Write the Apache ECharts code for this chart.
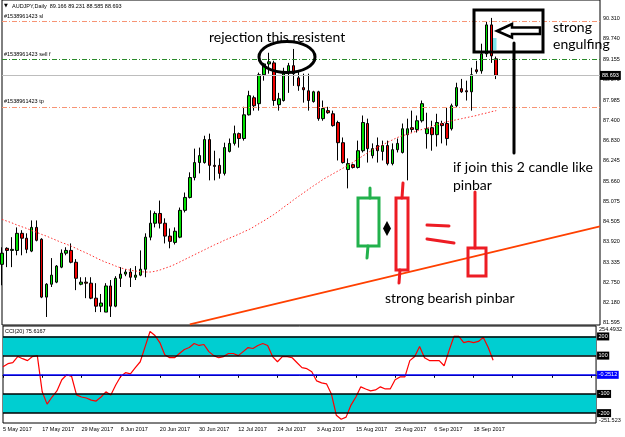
<!DOCTYPE html>
<html>
<head>
<meta charset="utf-8">
<script src="https://cdn.jsdelivr.net/npm/echarts@6/dist/echarts.min.js"></script>
<style>
  html, body { margin: 0; padding: 0; background: #fff; }
  #chart { width: 625px; height: 437px; }
</style>
</head>
<body>
<div id="chart"></div>
<script>
// trading days, 5 May 2017 .. 22 Sep 2017
const mayDays = [5, 8, 9, 10, 11, 12, 15, 16, 17, 18, 19, 22, 23, 24, 25, 26, 29, 30, 31];
const junDays = [1, 2, 5, 6, 7, 8, 9, 12, 13, 14, 15, 16, 19, 20, 21, 22, 23, 26, 27, 28, 29, 30];
const julDays = [3, 4, 5, 6, 7, 10, 11, 12, 13, 14, 17, 18, 19, 20, 21, 24, 25, 26, 27, 28, 31];
const augDays = [1, 2, 3, 4, 7, 8, 9, 10, 11, 14, 15, 16, 17, 18, 21, 22, 23, 24, 25, 28, 29, 30, 31];
const sepDays = [1, 4, 5, 6, 7, 8, 11, 12, 13, 14, 15, 18, 19, 20, 21, 22];
const emptySlots = 21; // chart shift on the right

const open = [
  83.27, 83.73, 83.67, 83.67, 84.16, 84.02, 83.65, 84.33, 83.99, 82.33,
  82.70, 82.76, 83.19, 83.59, 83.67, 83.33, 82.70, 82.76, 82.73, 82.30,
  82.07, 81.90, 82.65, 82.07, 82.87, 82.99, 83.05, 82.90, 82.96, 83.13,
  84.05, 84.45, 84.73, 84.45, 84.08, 83.90, 84.05, 84.82, 85.19, 85.76,
  86.19, 86.19, 86.85, 86.11, 86.11, 85.88, 86.51, 86.74, 87.02, 86.88,
  87.56, 88.05, 87.88, 88.71, 89.02, 89.05, 87.85, 87.97, 88.77, 88.97,
  88.62, 88.34, 88.25, 87.94, 88.22, 87.45, 87.68, 87.59, 87.34, 86.76,
  85.99, 86.13, 86.05, 86.53, 87.31, 86.39, 86.68, 86.51, 86.68, 86.16,
  86.56, 86.48, 86.99, 87.19, 87.14, 87.39, 87.02, 87.19, 86.99, 87.31,
  87.31, 87.16, 87.82, 88.31, 88.25, 88.22, 88.85, 88.82, 89.31, 90.14,
  89.166
];
const close = [
  83.59, 83.67, 83.70, 84.16, 84.02, 83.70, 84.33, 83.96, 82.33, 82.70,
  82.96, 83.22, 83.59, 83.67, 83.33, 82.87, 82.76, 82.73, 82.30, 82.07,
  82.16, 82.65, 82.07, 82.87, 82.99, 83.05, 82.90, 82.96, 83.13, 84.05,
  84.45, 84.73, 84.45, 84.08, 83.93, 84.22, 84.82, 85.19, 85.76, 86.19,
  86.39, 86.85, 86.11, 86.08, 85.88, 86.62, 86.74, 87.02, 86.88, 87.56,
  88.11, 87.82, 88.71, 89.02, 89.08, 87.97, 88.02, 88.74, 88.97, 88.74,
  88.39, 88.28, 87.97, 88.22, 87.45, 87.74, 87.62, 87.25, 86.76, 86.19,
  86.16, 86.05, 86.53, 87.34, 86.59, 86.59, 86.53, 86.68, 86.16, 86.56,
  86.74, 87.16, 87.16, 87.14, 87.39, 87.88, 87.16, 86.99, 87.34, 87.25,
  86.88, 87.82, 88.34, 88.22, 88.22, 88.71, 88.80, 89.31, 90.14, 89.25,
  88.693
];
const low = [
  82.67, 83.19, 83.19, 83.53, 83.53, 83.59, 83.62, 83.93, 82.30, 81.76,
  82.62, 82.73, 83.16, 83.53, 83.30, 82.53, 82.67, 82.30, 82.27, 81.90,
  81.90, 81.90, 81.76, 82.04, 82.62, 82.93, 82.62, 82.82, 82.93, 82.90,
  83.96, 84.33, 84.30, 83.87, 83.73, 83.84, 84.02, 84.76, 85.16, 85.68,
  85.88, 86.16, 85.68, 85.68, 85.73, 85.82, 86.48, 86.68, 86.62, 86.82,
  87.54, 87.68, 87.68, 88.54, 88.74, 87.82, 87.68, 87.94, 88.19, 88.39,
  88.25, 87.91, 87.68, 87.91, 87.39, 87.39, 87.59, 87.22, 86.25, 86.16,
  85.45, 86.02, 86.02, 86.48, 86.19, 86.31, 86.19, 86.25, 86.11, 86.11,
  86.48, 86.45, 85.68, 87.05, 87.05, 87.34, 86.59, 86.53, 86.65, 86.74,
  86.68, 87.11, 87.76, 88.19, 87.97, 87.68, 88.74, 88.74, 89.22, 89.05,
  88.585
];
const high = [
  83.76, 83.76, 84.05, 84.33, 84.25, 84.16, 84.53, 84.53, 84.02, 82.73,
  83.45, 83.25, 83.70, 83.76, 83.87, 83.42, 82.90, 82.90, 82.90, 82.73,
  82.42, 82.73, 82.82, 82.93, 83.19, 83.13, 83.16, 83.22, 83.67, 84.16,
  84.82, 84.79, 85.10, 84.59, 84.30, 84.33, 84.90, 85.33, 85.91, 86.59,
  86.62, 86.96, 87.02, 86.53, 86.31, 86.76, 86.88, 87.25, 87.05, 87.79,
  88.25, 88.11, 88.77, 89.05, 89.34, 89.11, 88.19, 88.91, 89.05, 89.45,
  88.82, 88.74, 88.74, 88.25, 88.25, 87.97, 87.79, 87.68, 87.39, 86.91,
  86.31, 86.16, 86.82, 87.54, 87.45, 86.74, 86.91, 86.82, 86.82, 86.74,
  86.88, 87.31, 87.45, 87.68, 87.54, 87.97, 87.62, 87.39, 87.59, 87.39,
  87.76, 87.88, 88.48, 88.59, 88.54, 88.91, 89.11, 89.60, 90.25, 90.34,
  89.231
];
// red dotted moving average
const movingAvg = [
  84.56, 84.51, 84.46, 84.40, 84.35, 84.30, 84.24, 84.19, 84.13, 84.08,
  84.02, 83.96, 83.90, 83.85, 83.79, 83.73, 83.66, 83.60, 83.53, 83.46,
  83.39, 83.33, 83.28, 83.22, 83.17, 83.13, 83.10, 83.08, 83.06, 83.05,
  83.05, 83.07, 83.11, 83.16, 83.21, 83.27, 83.34, 83.41, 83.48, 83.55,
  83.62, 83.69, 83.76, 83.83, 83.89, 83.96, 84.02, 84.08, 84.14, 84.21,
  84.27, 84.35, 84.44, 84.52, 84.61, 84.70, 84.80, 84.91, 85.01, 85.12,
  85.22, 85.32, 85.42, 85.52, 85.61, 85.71, 85.79, 85.87, 85.95, 86.03,
  86.11, 86.20, 86.29, 86.38, 86.47, 86.56, 86.63, 86.70, 86.77, 86.84,
  86.91, 86.96, 87.00, 87.05, 87.10, 87.14, 87.18, 87.23, 87.27, 87.32,
  87.36, 87.39, 87.42, 87.45, 87.48, 87.51, 87.54, 87.58, 87.61, 87.65,
  87.68
];
const cci = [
  42, 58, 63, 95, 84, 74, 95, 100, -89, -153,
  -116, -84, -26, 0, -9, -105, -116, -121, -132, -137,
  -116, -89, -105, -53, -9, 11, 5, 37, 68, 147,
  226, 205, 168, 105, 89, 89, 111, 132, 142, 163,
  153, 158, 121, 100, 89, 95, 111, 111, 100, 121,
  142, 137, 153, 163, 153, 95, 68, 95, 95, 89,
  63, 37, 32, 16, -32, -42, -47, -100, -211, -232,
  -221, -158, -116, -63, -74, -84, -79, -63, -74, -74,
  -26, -11, -11, 74, 95, 147, 89, 74, 74, 74,
  47, 126, 200, 200, 168, 174, 168, 174, 195, 142,
  75.6167
];

// orange trendline: [category index, price]
const trendIdx = [38, 121];
const trendPrice = [81.55, 84.36];

// order lines
const slPrice = 90.25;
const sellPrice = 89.14;
const bidPrice = 88.693;
const tpPrice = 87.79;

const priceTicks = [81.595, 82.180, 82.750, 83.335, 83.920, 84.505, 85.075, 85.660,
  86.245, 86.830, 87.400, 87.985, 88.570, 89.155, 89.740, 90.310];
const cciMax = 254.4932, cciMin = -251.523;
const cciLevels = [200, 100, -100, -200];
const cciMid = -0.2512;

const toDates = (days, mon) => days.map(d => d + ' ' + mon + ' 2017');
const categories = [].concat(
  toDates(mayDays, 'May'), toDates(junDays, 'Jun'), toDates(julDays, 'Jul'),
  toDates(augDays, 'Aug'), toDates(sepDays, 'Sep'),
  new Array(emptySlots).fill('')
);

const mt = 'Liberation Sans';
const small = { fontFamily: mt, fontSize: 5.5, color: '#000' };
const paintGreen = '#22b14c';
const paintRed = '#ed1c24';

const candles = open.map((o, i) => [o, close[i], low[i], high[i]]);

const orderLine = (value, color, text) => ({
  yAxis: value,
  lineStyle: { color: color, type: [5, 2, 1, 2], width: 1 },
  label: { show: true, position: 'insideStartTop', distance: 2, formatter: text, ...small }
});

const levelLine = (value, color, text) => ({
  yAxis: value,
  lineStyle: { color: color, type: 'solid', width: 1.5 },
  label: {
    show: true, position: 'end', distance: 1, formatter: text,
    fontFamily: mt, fontSize: 5.5, color: '#fff', backgroundColor: color, padding: [1, 1.5]
  }
});

const note = (text, x, y) => ({
  type: 'text', x: x, y: y, z: 100,
  style: { text: text, font: '14px Lato', fill: '#000', verticalAlign: 'middle' }
});
const seg = (x1, y1, x2, y2, color, w) => ({
  type: 'line', z: 100, shape: { x1, y1, x2, y2 },
  style: { stroke: color, lineWidth: w, lineCap: 'round' }
});
const box = (x, y, width, height, color, w) => ({
  type: 'rect', z: 100, shape: { x, y, width, height },
  style: { fill: 'none', stroke: color, lineWidth: w }
});

const chart = echarts.init(document.getElementById('chart'));

const option = {
  animation: false,
  backgroundColor: '#fff',
  grid: [
    { left: 2, right: 25, top: -1, height: 326, show: true, borderColor: '#000', borderWidth: 1 },
    { left: 2, right: 25, top: 326, height: 97, show: true, borderColor: '#000', borderWidth: 1 }
  ],
  xAxis: [
    {
      type: 'category', gridIndex: 0, data: categories, boundaryGap: false,
      axisLine: { show: false }, axisTick: { show: false }, axisLabel: { show: false },
      splitLine: { show: false }
    },
    {
      type: 'category', gridIndex: 1, data: categories, boundaryGap: false,
      axisLine: { show: true, lineStyle: { color: '#000' } },
      axisTick: { show: true, interval: 7, length: 3, lineStyle: { color: '#000' } },
      axisLabel: { interval: 7, align: 'left', margin: 3, ...small },
      splitLine: { show: false }
    }
  ],
  yAxis: [
    {
      type: 'value', gridIndex: 0, position: 'right', min: 81.53, max: 90.854, scale: true,
      axisLine: { show: false }, axisTick: { show: false }, splitLine: { show: false },
      axisLabel: { customValues: priceTicks, formatter: v => v.toFixed(3), margin: 3, ...small }
    },
    {
      type: 'value', gridIndex: 1, position: 'right', min: cciMin, max: cciMax,
      axisLine: { show: false }, axisTick: { show: false }, splitLine: { show: false },
      axisLabel: {
        customValues: [cciMax, cciMin],
        // MT4 keeps the range labels inside the pane
        formatter: v => (v > 0 ? '{top|' + cciMax.toFixed(4) + '}' : '{bot|' + cciMin.toFixed(3) + '}'),
        margin: 3, ...small,
        rich: {
          top: { padding: [6, 0, 0, 0], fontFamily: mt, fontSize: 5.5, color: '#000' },
          bot: { padding: [0, 0, 5, 0], fontFamily: mt, fontSize: 5.5, color: '#000' }
        }
      }
    }
  ],
  series: [
    {
      name: 'AUDJPY', type: 'candlestick', xAxisIndex: 0, yAxisIndex: 0,
      data: candles, barWidth: 3,
      itemStyle: {
        color: '#00e000', color0: '#ee0000',
        borderColor: '#000', borderColor0: '#000', borderWidth: 1
      },
      markLine: {
        symbol: ['none', 'none'], silent: true, animation: false,
        data: [
          orderLine(slPrice, '#f79474', '#1538961423 sl'),
          orderLine(sellPrice, '#2a8a2a', '#1538961423 sell f'),
          orderLine(tpPrice, '#f79474', '#1538961423 tp'),
          {
            yAxis: bidPrice,
            lineStyle: { color: '#bdbdbd', type: 'solid', width: 1 },
            label: {
              show: true, position: 'end', distance: 0, formatter: bidPrice.toFixed(3),
              fontFamily: mt, fontSize: 5.5, color: '#fff', backgroundColor: '#000', padding: [1.5, 2]
            }
          }
        ]
      }
    },
    {
      name: 'MA', type: 'line', xAxisIndex: 0, yAxisIndex: 0, data: movingAvg,
      symbol: 'none', silent: true,
      lineStyle: { color: '#ff3030', width: 1, type: [1.5, 2] }
    },
    {
      name: 'trend', type: 'line', xAxisIndex: 0, yAxisIndex: 0,
      data: trendIdx.map((x, i) => [x, trendPrice[i]]),
      symbol: 'none', silent: true, clip: true,
      lineStyle: { color: '#ff4000', width: 1.8 }
    },
    {
      name: 'CCI(20)', type: 'line', xAxisIndex: 1, yAxisIndex: 1, data: cci,
      symbol: 'none', silent: true,
      lineStyle: { color: '#ff0000', width: 1.2 },
      markArea: {
        silent: true,
        itemStyle: { color: '#00ced1', opacity: 1 },
        data: [
          [{ yAxis: 100 }, { yAxis: 200 }],
          [{ yAxis: -200 }, { yAxis: -100 }]
        ]
      },
      markLine: {
        symbol: ['none', 'none'], silent: true, animation: false,
        data: cciLevels.map(v => levelLine(v, '#000', String(v)))
          .concat([levelLine(cciMid, '#0000ff', String(cciMid))])
      }
    }
  ],
  graphic: [
    { type: 'text', x: 4, y: 6, z: 100, style: { text: '▼', font: '5px "DejaVu Sans"', fill: '#000', verticalAlign: 'middle' } },
    { type: 'text', x: 12, y: 6, z: 100, style: { text: 'AUDJPY,Daily  89.166 89.231 88.585 88.693', font: '5.5px "Liberation Sans"', fill: '#000', verticalAlign: 'middle' } },
    { type: 'text', x: 5, y: 331, z: 100, style: { text: 'CCI(20) 75.6167', font: '5.5px "Liberation Sans"', fill: '#000', verticalAlign: 'middle' } },
    { type: 'rect', z: 90, shape: { x: 493, y: 38, width: 3.5, height: 12 }, style: { fill: '#7fe3ea' } },

    // hand-drawn annotations
    { type: 'ellipse', z: 100, shape: { cx: 287, cy: 57, rx: 28, ry: 15.5 }, style: { fill: 'none', stroke: '#000', lineWidth: 3 } },
    note('rejection this resistent', 209, 37),
    box(474, 10, 69, 42, '#000', 3),
    {
      type: 'polygon', z: 100,
      shape: { points: [[497, 31], [512, 24], [512, 27.5], [540, 27.5], [540, 34], [512, 34], [512, 37.5]] },
      style: { fill: 'none', stroke: '#000', lineWidth: 2.5, lineJoin: 'miter' }
    },
    note('strong', 553, 27),
    note('engulfing', 553, 44),
    seg(514, 43, 514, 153, '#000', 3),
    note('if join this 2 candle like', 453, 167),
    note('pinbar', 453, 185),

    box(358, 198, 21, 48, paintGreen, 3),
    seg(370, 188, 370, 198, paintGreen, 3),
    seg(368, 246, 367, 258, paintGreen, 3),
    { type: 'polygon', z: 100, shape: { points: [[387, 221], [391, 228.5], [387, 236], [383, 228.5]] }, style: { fill: '#000' } },
    box(396, 198, 12, 72, paintRed, 3),
    seg(403, 183, 402, 198, paintRed, 3),
    seg(400, 270, 399, 283, paintRed, 3),
    seg(427, 225, 449, 226, paintRed, 3),
    seg(427, 239, 454, 243, paintRed, 3),
    box(468, 248, 18, 28, paintRed, 3),
    seg(475, 192, 475, 248, paintRed, 3),
    note('strong bearish pinbar', 385, 298)
  ]
};

chart.setOption(option);
</script>
</body>
</html>
